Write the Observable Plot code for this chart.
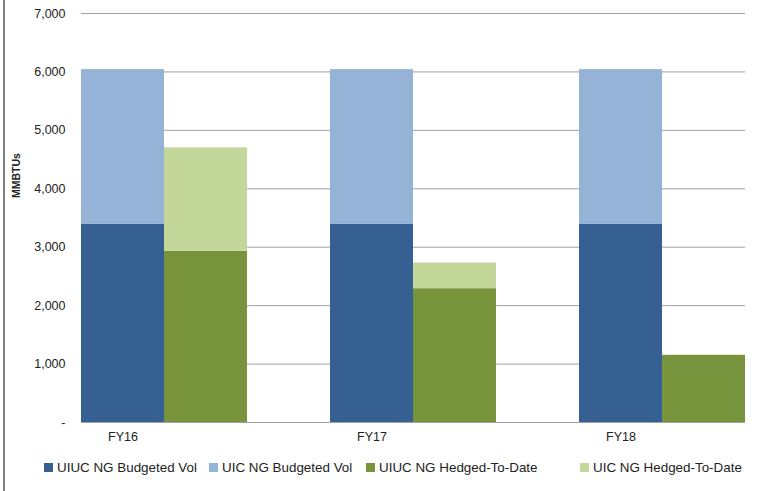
<!DOCTYPE html>
<html>
<head>
<meta charset="utf-8">
<script src="https://cdn.jsdelivr.net/npm/d3@7"></script>
<script src="https://cdn.jsdelivr.net/npm/@observablehq/plot@0.6"></script>
<style>
  html, body { margin: 0; padding: 0; background: #fff; }
  #wrap { position: relative; width: 763px; height: 491px; overflow: hidden; font-family: "Liberation Sans", Arial, sans-serif; }
  #border { position: absolute; left: 3px; top: 0; width: 2px; height: 491px; background: #7f7f7f; }
  #chart { position: absolute; left: 0; top: 0; }
  #legend { position: absolute; left: 0; top: 457px; width: 763px; height: 22px; }
  .item { position: absolute; top: 0; display: flex; align-items: center; height: 20px; font-size: 13.4px; color: #222; white-space: nowrap; }
  .sw { width: 9px; height: 9px; margin-right: 4px; }
</style>
</head>
<body>
<div id="wrap">
  <div id="chart"></div>
  <div id="border"></div>
  <div id="legend"></div>
</div>
<script>
const years = ["FY16", "FY17", "FY18"];
const uiucBudgeted = [3390, 3390, 3390];
const uicBudgeted = [2650, 2650, 2650];
const uiucHedged = [2930, 2290, 1150];
const uicHedged = [1770, 440, 0];
const seriesNames = ["UIUC NG Budgeted Vol", "UIC NG Budgeted Vol", "UIUC NG Hedged-To-Date", "UIC NG Hedged-To-Date"];
const seriesColors = ["#366092", "#95b3d7", "#77933c", "#c4d79b"];
const yTicks = [0, 1000, 2000, 3000, 4000, 5000, 6000, 7000];

// slots: each year has a budgeted bar, a hedged bar, and an empty gap slot
const slots = [];
years.forEach((y, i) => {
  slots.push(y + "-B", y + "-H");
  if (i < years.length - 1) slots.push(y + "-gap");
});

const rows = [];
years.forEach((y, i) => {
  rows.push({slot: y + "-B", series: seriesNames[0], value: uiucBudgeted[i]});
  rows.push({slot: y + "-B", series: seriesNames[1], value: uicBudgeted[i]});
  rows.push({slot: y + "-H", series: seriesNames[2], value: uiucHedged[i]});
  rows.push({slot: y + "-H", series: seriesNames[3], value: uicHedged[i]});
});

const fmt = d3.format(",");
const plot = Plot.plot({
  width: 763,
  height: 452,
  marginLeft: 81,
  marginRight: 18,
  marginTop: 13,
  marginBottom: 30,
  style: {fontFamily: "Liberation Sans, Arial, sans-serif", fontSize: "12.5px", color: "#222", background: "white"},
  x: {type: "band", domain: slots, padding: 0, label: null},
  y: {domain: [0, 7000], label: null},
  color: {domain: seriesNames, range: seriesColors},
  marks: [
    Plot.gridY(yTicks, {stroke: "#a0a0a0", strokeOpacity: 1, strokeWidth: 1}),
    Plot.barY(rows, Plot.stackY({order: null, x: "slot", y: "value", fill: "series", inset: 0})),
    Plot.axisY(yTicks, {tickSize: 0, tickPadding: 16, tickFormat: d => d === 0 ? "-" : fmt(d), label: null}),
    Plot.axisX(years.map(y => y + "-B"), {tickSize: 0, tickPadding: 10, tickFormat: d => d.slice(0, 4), label: null}),
    Plot.text(["MMBTUs"], {frameAnchor: "left", dx: -65, dy: -20, rotate: -90, text: d => d, fontWeight: "bold", fontSize: 10.5})
  ]
});
document.getElementById("chart").appendChild(plot);

const legendX = [44, 209, 366, 580];
const legend = document.getElementById("legend");
seriesNames.forEach((name, i) => {
  const it = document.createElement("div");
  it.className = "item";
  it.style.left = legendX[i] + "px";
  const sw = document.createElement("div");
  sw.className = "sw";
  sw.style.background = seriesColors[i];
  it.appendChild(sw);
  const t = document.createElement("span");
  t.textContent = name;
  it.appendChild(t);
  legend.appendChild(it);
});
</script>
</body>
</html>
